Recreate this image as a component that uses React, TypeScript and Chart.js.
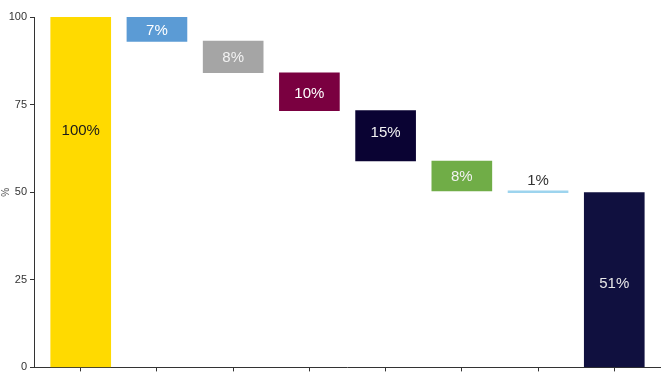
import React, { useEffect, useRef } from "react";
import { Chart, registerables } from "chart.js";

Chart.register(...registerables);

const categories = ["Start", "Step 1", "Step 2", "Step 3", "Step 4", "Step 5", "Step 6", "End"];
const barLow = [0, 93.0, 84.1, 73.3, 58.9, 50.4, 49.9, 0];
const barHigh = [100, 100, 93.1, 84.1, 73.3, 58.9, 50.4, 49.9];
const barLabels = ["100%", "7%", "8%", "10%", "15%", "8%", "1%", "51%"];
const labelAt = [67.5, 96.0, 88.3, 78.0, 66.8, 54.5, 53.3, 23.9];
const barColors = ["#FFDA00", "#5B9BD5", "#A5A5A5", "#7A0040", "#0A0333", "#70AD47", "#9DD4EE", "#10103F"];
const labelColors = ["#1a1a1a", "#ffffff", "#f2f2f2", "#ffffff", "#f2f2f2", "#f2f2f2", "#333333", "#e8e8e8"];
const yTicks = [0, 25, 50, 75, 100];

const labelPlugin = {
  id: "barLabels",
  afterDatasetsDraw(chart: any) {
    const { ctx, scales } = chart;
    const meta = chart.getDatasetMeta(0);
    ctx.save();
    ctx.font = "15px 'Liberation Sans', Arial, sans-serif";
    ctx.textAlign = "center";
    ctx.textBaseline = "middle";
    meta.data.forEach((el: any, i: number) => {
      ctx.fillStyle = labelColors[i];
      ctx.fillText(barLabels[i], el.x, scales.y.getPixelForValue(labelAt[i]));
    });
    ctx.restore();
  },
};

export default function App() {
  const ref = useRef<HTMLCanvasElement>(null);
  useEffect(() => {
    document.body.style.margin = "0";
    const chart = new Chart(ref.current!, {
      type: "bar",
      data: {
        datasets: [
          {
            data: categories.map((c, i) => ({ x: i, y: [barLow[i], barHigh[i]] })) as any,
            backgroundColor: barColors,
            barThickness: 60,
          },
        ],
      },
      options: {
        animation: false,
        responsive: false,
        maintainAspectRatio: false,
        layout: { padding: { top: 17, right: 10, left: 0, bottom: 0 } },
        plugins: { legend: { display: false }, tooltip: { enabled: false } },
        scales: {
          x: {
            type: "linear",
            offset: false,
            min: -0.613,
            max: 7.6,
            afterBuildTicks: (scale: any) => {
              scale.ticks = categories.map((_, i) => ({ value: i }));
            },
            afterFit: (scale: any) => {
              scale.height = 9;
            },
            ticks: { display: false },
            grid: { display: true, offset: false, drawOnChartArea: false, drawTicks: true, tickLength: 4, color: "#333" },
            border: { display: true, color: "#333", width: 1 },
          },
          y: {
            min: 0,
            max: 100,
            afterBuildTicks: (scale: any) => {
              scale.ticks = yTicks.map((v) => ({ value: v }));
            },
            afterFit: (scale: any) => {
              scale.width = 34;
            },
            title: {
              display: true,
              text: "%",
              color: "#555",
              font: { size: 10, family: "'Liberation Sans', Arial, sans-serif" },
              padding: 0,
            },
            ticks: {
              color: "#333",
              font: { size: 11, family: "'Liberation Sans', Arial, sans-serif" },
              padding: 3,
            },
            grid: { display: true, drawOnChartArea: false, drawTicks: true, tickLength: 4, color: "#333" },
            border: { display: true, color: "#333", width: 1 },
          },
        },
      },
      plugins: [labelPlugin],
    });
    return () => chart.destroy();
  }, []);
  return (
    <div style={{ width: 670, height: 377 }}>
      <canvas ref={ref} width={670} height={377} />
    </div>
  );
}
